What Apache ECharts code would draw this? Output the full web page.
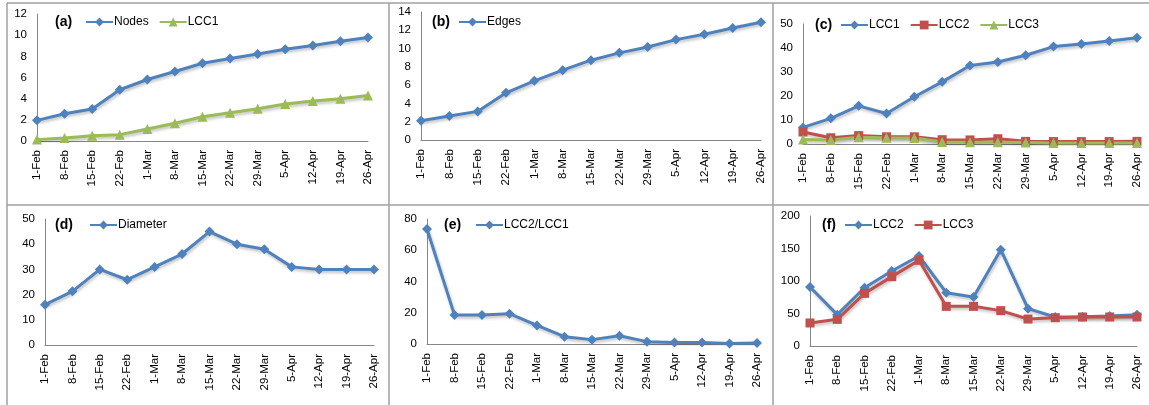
<!DOCTYPE html>
<html>
<head>
<meta charset="utf-8">
<script src="https://cdn.jsdelivr.net/npm/echarts@6/dist/echarts.min.js"></script>
<style>
html,body{margin:0;padding:0;background:#fff;}
#chart{width:1149px;height:405px;}
</style>
</head>
<body>
<div id="chart"></div>
<script>
// ---- Data ----
const categories = ['1-Feb','8-Feb','15-Feb','22-Feb','1-Mar','8-Mar','15-Mar','22-Mar','29-Mar','5-Apr','12-Apr','19-Apr','26-Apr'];

// (a)
const nodesA = [1.95, 2.58, 3.02, 4.84, 5.81, 6.57, 7.35, 7.79, 8.23, 8.67, 9.02, 9.43, 9.77];
const lcc1A  = [0.13, 0.28, 0.5, 0.6, 1.13, 1.67, 2.29, 2.67, 3.05, 3.49, 3.77, 3.99, 4.3];
// (b)
const edgesB = [2.11, 2.62, 3.13, 5.16, 6.47, 7.64, 8.73, 9.53, 10.18, 10.98, 11.56, 12.25, 12.87];
// (c)
const lcc1C = [6.9, 10.7, 15.9, 12.7, 19.7, 25.9, 32.7, 34.2, 37.0, 40.6, 41.7, 42.9, 44.3];
const lcc2C = [5.0, 2.6, 3.5, 3.0, 3.0, 1.8, 1.7, 2.2, 1.1, 1.0, 1.0, 1.0, 1.1];
const lcc3C = [1.9, 1.7, 2.8, 2.6, 2.5, 0.8, 0.7, 0.7, 0.6, 0.4, 0.4, 0.4, 0.4];
// (d)
const diameterD = [16, 21.3, 30, 25.9, 31, 36.1, 45, 40, 38, 31, 30, 30, 30];
// (e)
const ratioE = [73.6, 18.5, 18.5, 19.4, 11.9, 4.7, 2.8, 5.3, 1.5, 0.9, 0.9, 0.4, 0.6];
// (f)
const lcc2F = [90.8, 48.2, 89.7, 115.4, 138.5, 82, 75.4, 148.2, 57.4, 44.6, 45, 46, 48];
const lcc3F = [35.4, 41, 81, 106.7, 131.8, 61, 61, 54.4, 41.5, 43.6, 44.6, 44.6, 44.6];

// y-axis tick settings per panel
const yMax = [12, 14, 50, 50, 80, 200];
const yInterval = [2, 2, 10, 10, 20, 50];
const panelLabels = ['(a)', '(b)', '(c)', '(d)', '(e)', '(f)'];

// ---- Layout ----
const BLUE = '#4F81BD', RED = '#C0504D', GREEN = '#9BBB59';
const grids = [
  {left: 37,  top: 14,  width: 331, height: 127},
  {left: 421, top: 12,  width: 340, height: 128},
  {left: 803, top: 24,  width: 334, height: 120},
  {left: 45,  top: 219, width: 329, height: 126},
  {left: 427, top: 219, width: 330, height: 125},
  {left: 810, top: 216, width: 327, height: 130}
];
const labelPos = [[55, 15], [432, 15], [815, 18], [55, 218], [444, 218], [822, 218]];
const legendPos = [[85, 16], [458, 16], [840, 19], [89, 219], [475, 219], [844, 219]];

const FONT = '"Liberation Sans", Arial, sans-serif';

function mkSeries(name, data, idx, color, symbol, size) {
  return {
    type: 'line', name: name, data: data,
    xAxisIndex: idx, yAxisIndex: idx,
    symbol: symbol, symbolSize: size, showSymbol: true,
    lineStyle: {color: color, width: 3, shadowColor: 'rgba(0,0,0,0.25)', shadowBlur: 3, shadowOffsetX: 1, shadowOffsetY: 2},
    itemStyle: {color: color},
    animation: false, z: 2
  };
}

const series = [
  mkSeries('a:Nodes', nodesA, 0, BLUE, 'diamond', 10),
  mkSeries('a:LCC1', lcc1A, 0, GREEN, 'triangle', 10),
  mkSeries('b:Edges', edgesB, 1, BLUE, 'diamond', 10),
  mkSeries('c:LCC1', lcc1C, 2, BLUE, 'diamond', 10),
  mkSeries('c:LCC2', lcc2C, 2, RED, 'rect', 9),
  mkSeries('c:LCC3', lcc3C, 2, GREEN, 'triangle', 10),
  mkSeries('d:Diameter', diameterD, 3, BLUE, 'diamond', 10),
  mkSeries('e:LCC2/LCC1', ratioE, 4, BLUE, 'diamond', 10),
  mkSeries('f:LCC2', lcc2F, 5, BLUE, 'diamond', 10),
  mkSeries('f:LCC3', lcc3F, 5, RED, 'rect', 9)
];

const legendData = [
  ['a:Nodes', 'a:LCC1'], ['b:Edges'], ['c:LCC1', 'c:LCC2', 'c:LCC3'],
  ['d:Diameter'], ['e:LCC2/LCC1'], ['f:LCC2', 'f:LCC3']
];

const option = {
  backgroundColor: '#fff',
  animation: false,
  grid: grids.map(g => Object.assign({containLabel: false}, g)),
  xAxis: grids.map((g, i) => ({
    type: 'category', gridIndex: i, data: categories, boundaryGap: false,
    axisLine: {show: true, lineStyle: {color: '#868686', width: 1}},
    axisTick: {show: false},
    axisLabel: {interval: 0, rotate: 90, margin: 9, color: '#000', fontSize: 11.5, fontFamily: FONT},
    splitLine: {show: false}
  })),
  yAxis: grids.map((g, i) => ({
    type: 'value', gridIndex: i, min: 0, max: yMax[i], interval: yInterval[i],
    axisLine: {show: true, lineStyle: {color: '#868686', width: 1}},
    axisTick: {show: false},
    axisLabel: {margin: 10, color: '#000', fontSize: 11.5, fontFamily: FONT},
    splitLine: {show: false}
  })),
  legend: legendData.map((d, i) => ({
    data: d, left: legendPos[i][0], top: legendPos[i][1],
    orient: 'horizontal', itemWidth: 27, itemHeight: 11, itemGap: 10,
    padding: 0, selectedMode: false,
    textStyle: {fontSize: 12, color: '#000', fontFamily: FONT, padding: [0, 0, 0, -4]},
    formatter: n => n.split(':').slice(1).join(':')
  })),
  series: series,
  graphic: [
    // panel frame lines
    {type: 'line', shape: {x1: 7, y1: 3, x2: 1149, y2: 3}, style: {stroke: '#a0a0a0', lineWidth: 1.5}, silent: true},
    {type: 'line', shape: {x1: 7, y1: 205, x2: 1149, y2: 205}, style: {stroke: '#a0a0a0', lineWidth: 1.5}, silent: true},
    {type: 'line', shape: {x1: 7, y1: 3, x2: 7, y2: 405}, style: {stroke: '#a0a0a0', lineWidth: 1.5}, silent: true},
    {type: 'line', shape: {x1: 389, y1: 3, x2: 389, y2: 405}, style: {stroke: '#a0a0a0', lineWidth: 1.5}, silent: true},
    {type: 'line', shape: {x1: 773, y1: 3, x2: 773, y2: 405}, style: {stroke: '#a0a0a0', lineWidth: 1.5}, silent: true}
  ].concat(panelLabels.map((t, i) => ({
    type: 'text', left: labelPos[i][0], top: labelPos[i][1], silent: true,
    style: {text: t, fontSize: 14, fontWeight: 'bold', fill: '#000', font: 'bold 14px ' + FONT}
  })))
};

const chart = echarts.init(document.getElementById('chart'), null, {renderer: 'canvas'});
chart.setOption(option);
</script>
</body>
</html>
